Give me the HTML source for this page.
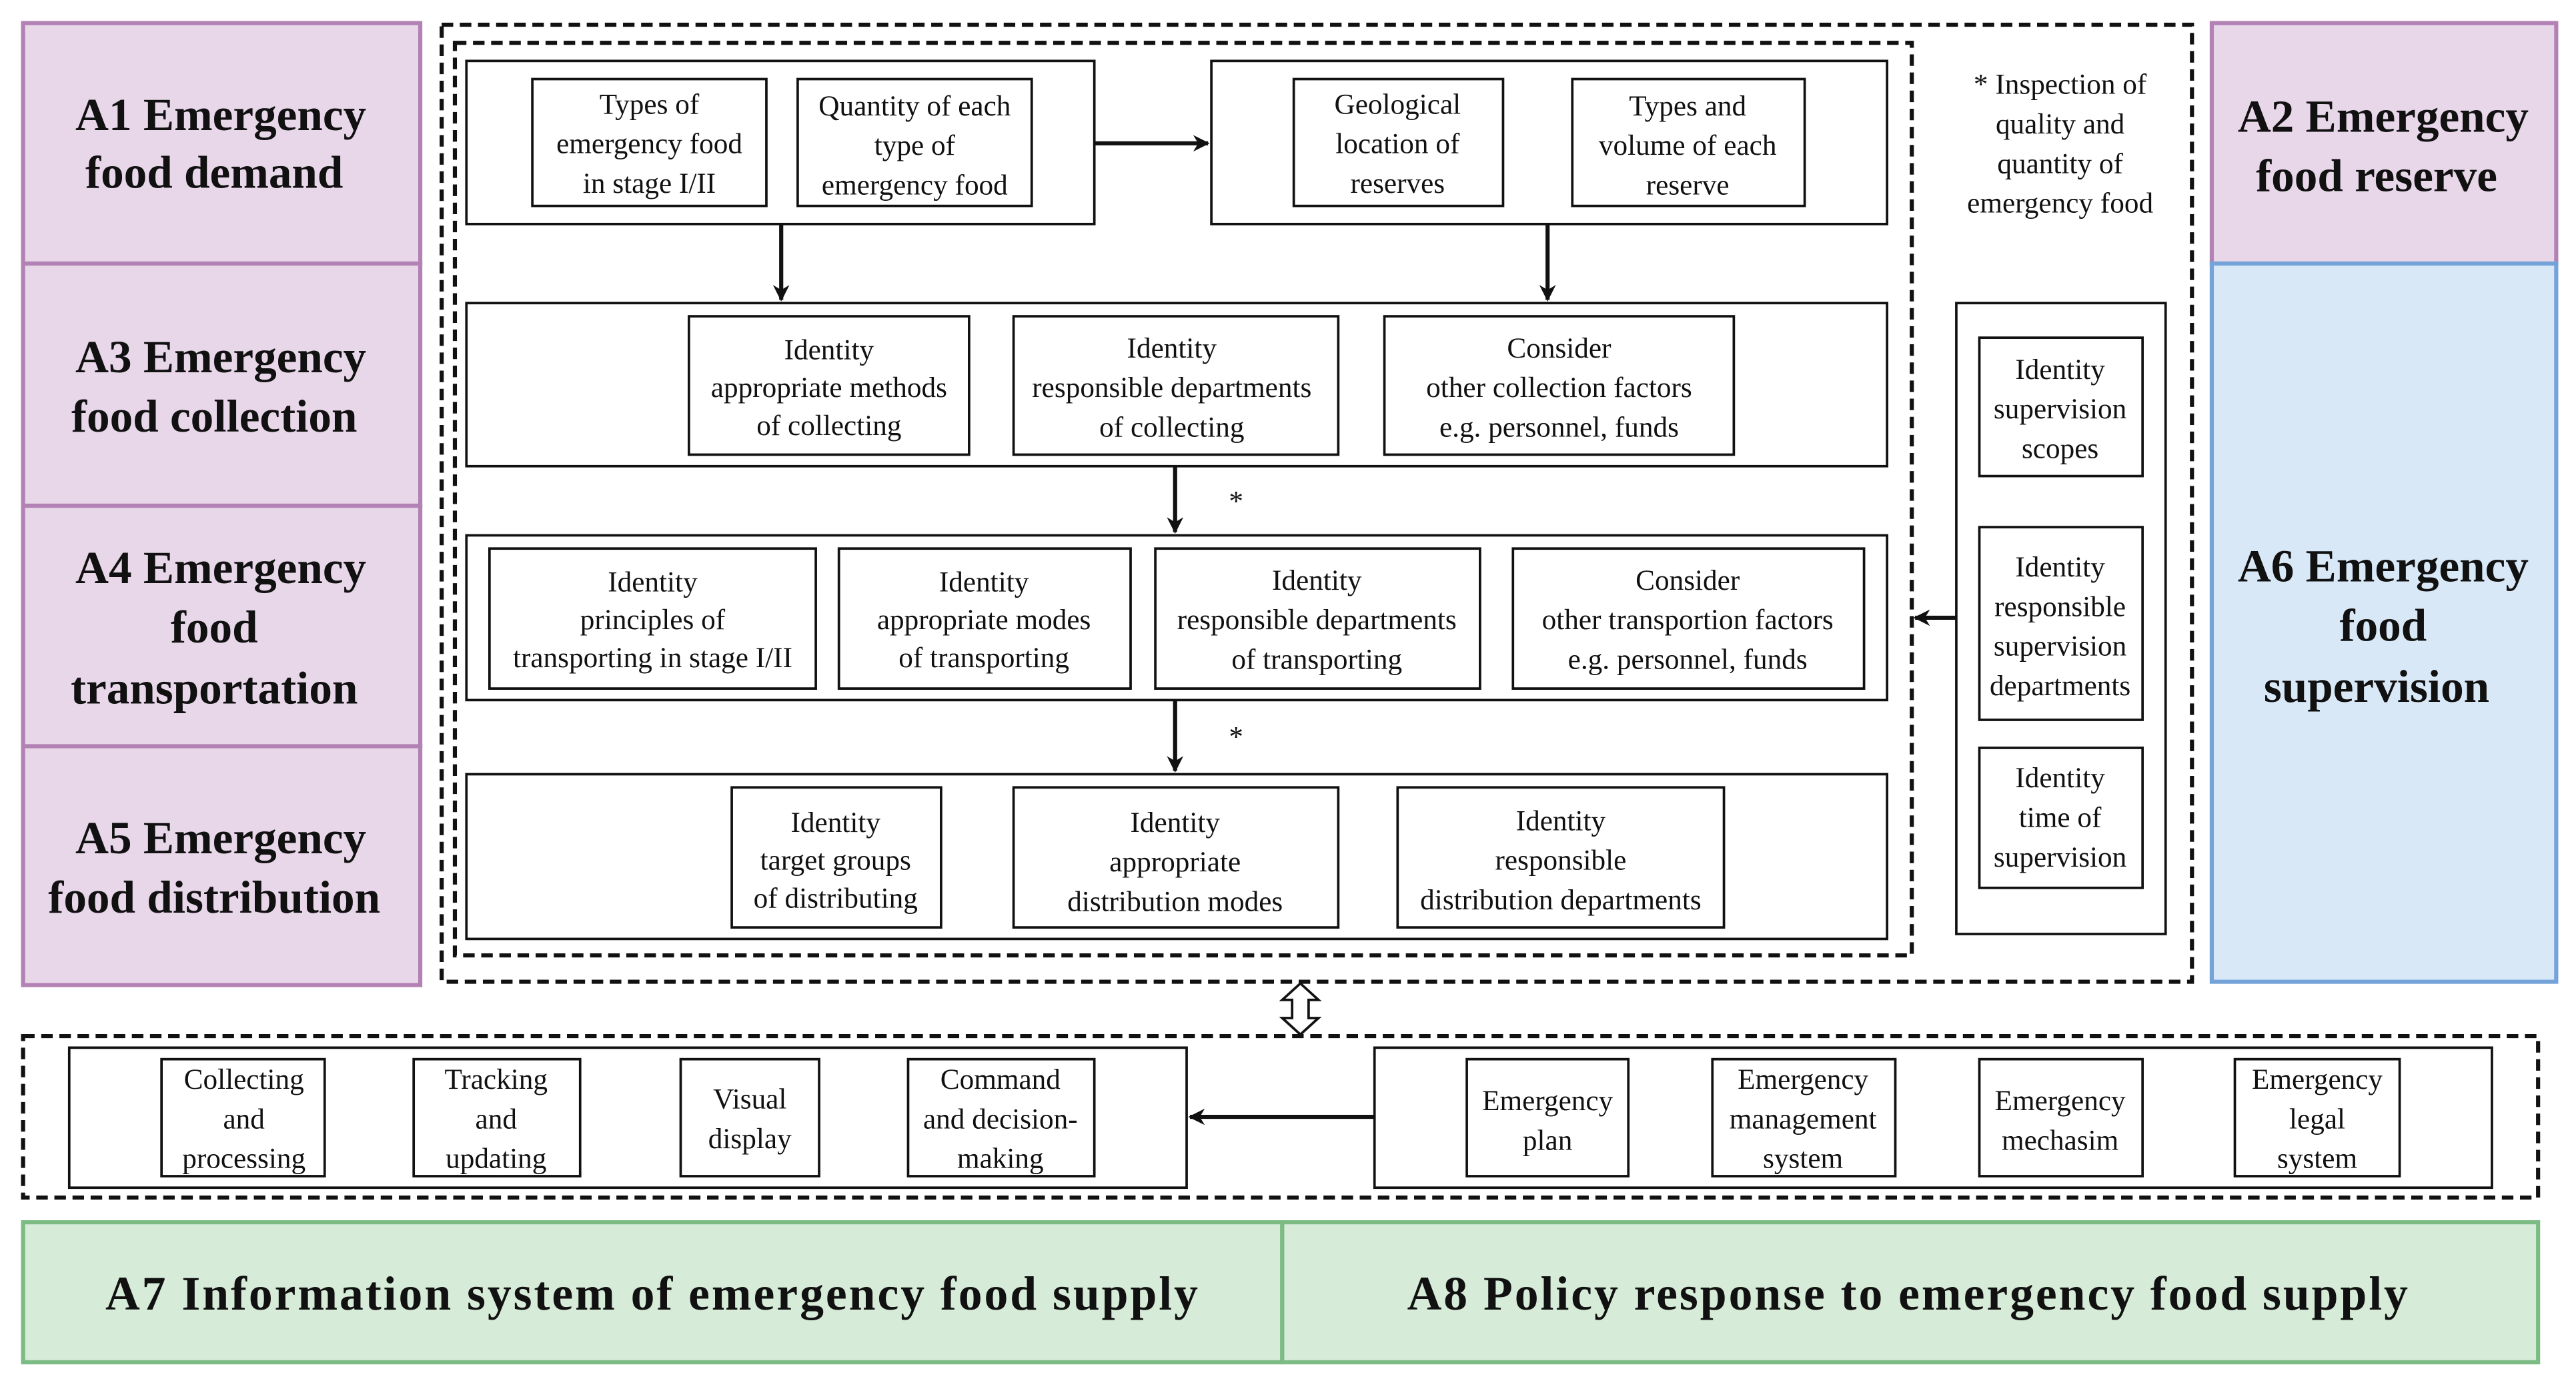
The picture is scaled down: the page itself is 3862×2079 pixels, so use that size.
<!DOCTYPE html>
<html><head><meta charset="utf-8"><style>
html,body{margin:0;padding:0;background:#fff}
svg{display:block}
text{font-family:"Liberation Serif",serif;fill:#111}
.s{font-size:17.5px}
.b{font-size:28px;font-weight:bold}
.bt{font-size:29px;font-weight:bold;letter-spacing:1.2px}
</style></head><body>
<svg width="3862" height="2079" viewBox="0 0 1563 842" preserveAspectRatio="none" xmlns="http://www.w3.org/2000/svg">
<defs><marker id="ar" markerWidth="10" markerHeight="10" refX="9" refY="5" orient="auto" markerUnits="userSpaceOnUse"><path d="M0,0 L10,5 L0,10 L3,5 z" fill="#111"/></marker></defs>
<g stroke-width="2.5">
<rect x="14" y="14" width="241" height="146" fill="#e8d6e9" stroke="#b282b5"/>
<rect x="14" y="160" width="241" height="147" fill="#e8d6e9" stroke="#b282b5"/>
<rect x="14" y="307" width="241" height="146" fill="#e8d6e9" stroke="#b282b5"/>
<rect x="14" y="453" width="241" height="145" fill="#e8d6e9" stroke="#b282b5"/>
<rect x="1342" y="14" width="209" height="146" fill="#e8d6e9" stroke="#b282b5"/>
<rect x="1342" y="160" width="209" height="436" fill="#d8e8f7" stroke="#73a3d9"/>
<rect x="14" y="742" width="764" height="85" fill="#d6ebd8" stroke="#7cbb84"/>
<rect x="778" y="742" width="762" height="85" fill="#d6ebd8" stroke="#7cbb84"/>
</g>
<g class="b" text-anchor="middle">
<text x="134" y="79">A1 Emergency</text><text x="130" y="114">food demand</text>
<text x="134" y="226">A3 Emergency</text><text x="130" y="262">food collection</text>
<text x="134" y="354">A4 Emergency</text><text x="130" y="390">food</text><text x="130" y="427">transportation</text>
<text x="134" y="518">A5 Emergency</text><text x="130" y="554">food distribution</text>
<text x="1446" y="80">A2 Emergency</text><text x="1442" y="116">food reserve</text>
<text x="1446" y="353">A6  Emergency</text><text x="1446" y="389">food</text><text x="1442" y="426">supervision</text>
</g>
<g class="bt" text-anchor="middle">
<text x="396" y="795">A7 Information system of emergency food  supply</text>
<text x="1158" y="795">A8 Policy response to emergency food supply</text>
</g>
<g fill="none" stroke="#111" stroke-width="2.5" stroke-dasharray="7,4">
<rect x="268" y="15" width="1062" height="581"/>
<rect x="276" y="26" width="884" height="554"/>
<rect x="14" y="629" width="1526" height="98"/>
</g>
<g fill="#fff" stroke="#111" stroke-width="1.5">
<rect x="283" y="37" width="381" height="99"/><rect x="735" y="37" width="410" height="99"/>
<rect x="283" y="184" width="862" height="99"/><rect x="283" y="325" width="862" height="100"/><rect x="283" y="470" width="862" height="100"/>
<rect x="1187" y="184" width="127" height="383"/>
<rect x="42" y="636" width="678" height="85"/><rect x="834" y="636" width="678" height="85"/>
<rect x="323" y="48" width="142" height="77"/><rect x="484" y="48" width="142" height="77"/>
<rect x="785" y="48" width="127" height="77"/><rect x="954" y="48" width="141" height="77"/>
<rect x="418" y="192" width="170" height="84"/><rect x="615" y="192" width="197" height="84"/><rect x="840" y="192" width="212" height="84"/>
<rect x="297" y="333" width="198" height="85"/><rect x="509" y="333" width="177" height="85"/><rect x="701" y="333" width="197" height="85"/><rect x="918" y="333" width="213" height="85"/>
<rect x="444" y="478" width="127" height="85"/><rect x="615" y="478" width="197" height="85"/><rect x="848" y="478" width="198" height="85"/>
<rect x="1201" y="205" width="99" height="84"/><rect x="1201" y="320" width="99" height="117"/><rect x="1201" y="454" width="99" height="85"/>
<rect x="98" y="643" width="99" height="71"/><rect x="251" y="643" width="101" height="71"/><rect x="413" y="643" width="84" height="71"/><rect x="551" y="643" width="113" height="71"/>
<rect x="890" y="643" width="98" height="71"/><rect x="1039" y="643" width="111" height="71"/><rect x="1201" y="643" width="99" height="71"/><rect x="1356" y="643" width="100" height="71"/>
</g>
<g stroke="#111" stroke-width="2.5" marker-end="url(#ar)">
<line x1="664" y1="87" x2="733" y2="87"/>
<line x1="474" y1="136" x2="474" y2="182"/><line x1="939" y1="136" x2="939" y2="182"/>
<line x1="713" y1="283" x2="713" y2="323"/><line x1="713" y1="425" x2="713" y2="468"/>
<line x1="1187" y1="375" x2="1162" y2="375"/>
<line x1="834" y1="678" x2="722" y2="678"/>
</g>
<path d="M789,597 L800,607 L794,607 L794,618 L800,618 L789,628 L778,618 L784,618 L784,607 L778,607 Z" fill="#fff" stroke="#111" stroke-width="1.5"/>
<g class="s" text-anchor="middle">
<text x="750" y="310">*</text><text x="750" y="453">*</text>
<text x="1250" y="57">* Inspection of</text><text x="1250" y="81">quality and</text><text x="1250" y="105">quantity of</text><text x="1250" y="129">emergency food</text>
<text x="394" y="69">Types of</text><text x="394" y="93">emergency food</text><text x="394" y="117">in stage I/II</text>
<text x="555" y="70">Quantity of each</text><text x="555" y="94">type of</text><text x="555" y="118">emergency food</text>
<text x="848" y="69">Geological</text><text x="848" y="93">location of</text><text x="848" y="117">reserves</text>
<text x="1024" y="70">Types and</text><text x="1024" y="94">volume of each</text><text x="1024" y="118">reserve</text>
<text x="503" y="218">Identity</text><text x="503" y="241">appropriate methods</text><text x="503" y="264">of collecting</text>
<text x="711" y="217">Identity</text><text x="711" y="241">responsible departments</text><text x="711" y="265">of collecting</text>
<text x="946" y="217">Consider</text><text x="946" y="241">other collection factors</text><text x="946" y="265">e.g. personnel, funds</text>
<text x="396" y="359">Identity</text><text x="396" y="382">principles of</text><text x="396" y="405">transporting in stage I/II</text>
<text x="597" y="359">Identity</text><text x="597" y="382">appropriate modes</text><text x="597" y="405">of transporting</text>
<text x="799" y="358">Identity</text><text x="799" y="382">responsible departments</text><text x="799" y="406">of transporting</text>
<text x="1024" y="358">Consider</text><text x="1024" y="382">other transportion factors</text><text x="1024" y="406">e.g. personnel, funds</text>
<text x="507" y="505">Identity</text><text x="507" y="528">target groups</text><text x="507" y="551">of distributing</text>
<text x="713" y="505">Identity</text><text x="713" y="529">appropriate</text><text x="713" y="553">distribution modes</text>
<text x="947" y="504">Identity</text><text x="947" y="528">responsible</text><text x="947" y="552">distribution departments</text>
<text x="1250" y="230">Identity</text><text x="1250" y="254">supervision</text><text x="1250" y="278">scopes</text>
<text x="1250" y="350">Identity</text><text x="1250" y="374">responsible</text><text x="1250" y="398">supervision</text><text x="1250" y="422">departments</text>
<text x="1250" y="478">Identity</text><text x="1250" y="502">time of</text><text x="1250" y="526">supervision</text>
<text x="148" y="661">Collecting</text><text x="148" y="685">and</text><text x="148" y="709">processing</text>
<text x="301" y="661">Tracking</text><text x="301" y="685">and</text><text x="301" y="709">updating</text>
<text x="455" y="673">Visual</text><text x="455" y="697">display</text>
<text x="607" y="661">Command</text><text x="607" y="685">and decision-</text><text x="607" y="709">making</text>
<text x="939" y="674">Emergency</text><text x="939" y="698">plan</text>
<text x="1094" y="661">Emergency</text><text x="1094" y="685">management</text><text x="1094" y="709">system</text>
<text x="1250" y="674">Emergency</text><text x="1250" y="698">mechasim</text>
<text x="1406" y="661">Emergency</text><text x="1406" y="685">legal</text><text x="1406" y="709">system</text>
</g>
</svg>
</body></html>
